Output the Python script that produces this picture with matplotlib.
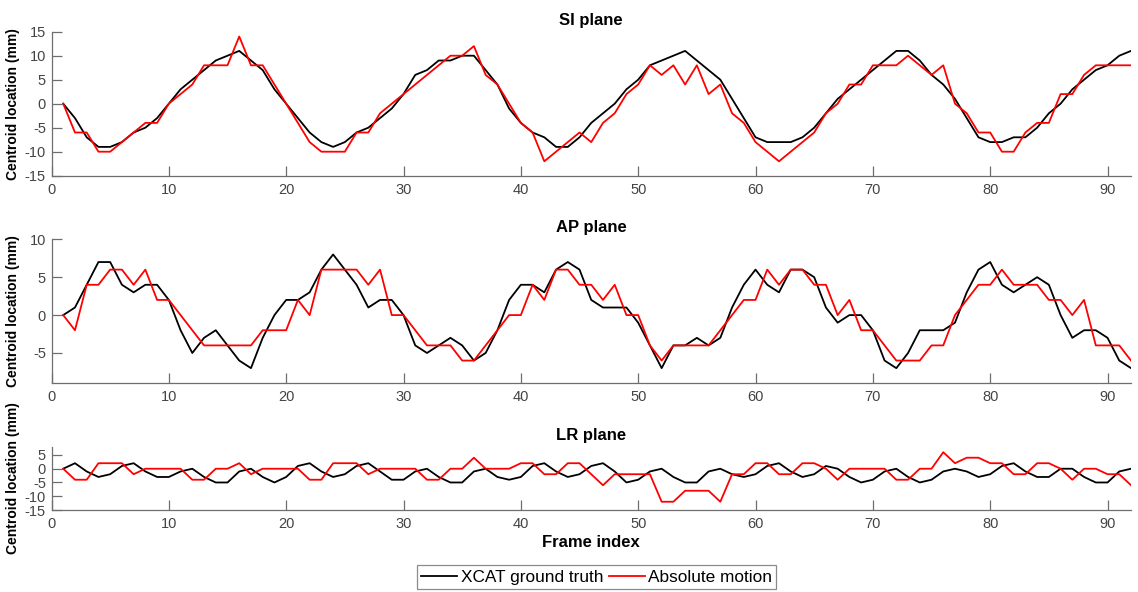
import matplotlib
matplotlib.use("Agg")
import matplotlib.pyplot as plt
import numpy as np

plt.rcParams['font.family'] = ['Liberation Sans', 'DejaVu Sans']
plt.rcParams['axes.unicode_minus'] = False

frames = np.arange(1, 93)

si_truth = [0, -3, -7, -9, -9, -8, -6, -5, -3, 0, 3, 5, 7, 9, 10, 11, 9, 7, 3, 0,
            -3, -6, -8, -9, -8, -6, -5, -3, -1, 2, 6, 7, 9, 9, 10, 10, 7, 4, -1, -4,
            -6, -7, -9, -9, -7, -4, -2, 0, 3, 5, 8, 9, 10, 11, 9, 7, 5, 1, -3, -7,
            -8, -8, -8, -7, -5, -2, 1, 3, 5, 7, 9, 11, 11, 9, 6, 4, 1, -3, -7, -8,
            -8, -7, -7, -5, -2, 0, 3, 5, 7, 8, 10, 11]
si_abs = [0, -6, -6, -10, -10, -8, -6, -4, -4, 0, 2, 4, 8, 8, 8, 14, 8, 8, 4, 0,
          -4, -8, -10, -10, -10, -6, -6, -2, 0, 2, 4, 6, 8, 10, 10, 12, 6, 4, 0, -4,
          -6, -12, -10, -8, -6, -8, -4, -2, 2, 4, 8, 6, 8, 4, 8, 2, 4, -2, -4, -8,
          -10, -12, -10, -8, -6, -2, 0, 4, 4, 8, 8, 8, 10, 8, 6, 8, 0, -2, -6, -6,
          -10, -10, -6, -4, -4, 2, 2, 6, 8, 8, 8, 8]

ap_truth = [0, 1, 4, 7, 7, 4, 3, 4, 4, 2, -2, -5, -3, -2, -4, -6, -7, -3, 0, 2,
            2, 3, 6, 8, 6, 4, 1, 2, 2, 0, -4, -5, -4, -3, -4, -6, -5, -2, 2, 4,
            4, 3, 6, 7, 6, 2, 1, 1, 1, -1, -4, -7, -4, -4, -3, -4, -3, 1, 4, 6,
            4, 3, 6, 6, 5, 1, -1, 0, 0, -2, -6, -7, -5, -2, -2, -2, -1, 3, 6, 7,
            4, 3, 4, 5, 4, 0, -3, -2, -2, -3, -6, -7]
ap_abs = [0, -2, 4, 4, 6, 6, 4, 6, 2, 2, 0, -2, -4, -4, -4, -4, -4, -2, -2, -2,
          2, 0, 6, 6, 6, 6, 4, 6, 0, 0, -2, -4, -4, -4, -6, -6, -4, -2, 0, 0,
          4, 2, 6, 6, 4, 4, 2, 4, 0, 0, -4, -6, -4, -4, -4, -4, -2, 0, 2, 2,
          6, 4, 6, 6, 4, 4, 0, 2, -2, -2, -4, -6, -6, -6, -4, -4, 0, 2, 4, 4,
          6, 4, 4, 4, 2, 2, 0, 2, -4, -4, -4, -6]

lr_truth = [0, 2, -1, -3, -2, 1, 2, -1, -3, -3, -1, 0, -3, -5, -5, -1, 0, -3, -5, -3,
            1, 2, -1, -3, -2, 1, 2, -1, -4, -4, -1, 0, -3, -5, -5, -1, 0, -3, -4, -3,
            1, 2, -1, -3, -2, 1, 2, -1, -5, -4, -1, 0, -3, -5, -5, -1, 0, -2, -3, -2,
            1, 2, -1, -3, -2, 1, 0, -3, -5, -4, -1, 0, -3, -5, -4, -1, 0, -1, -3, -2,
            1, 2, -1, -3, -3, 0, 0, -3, -5, -5, -1, 0]
lr_abs = [0, -4, -4, 2, 2, 2, -2, 0, 0, 0, 0, -4, -4, 0, 0, 2, -2, 0, 0, 0,
          0, -4, -4, 2, 2, 2, -2, 0, 0, 0, 0, -4, -4, 0, 0, 4, 0, 0, 0, 2,
          2, -2, -2, 2, 2, -2, -6, -2, -2, -2, -2, -12, -12, -8, -8, -8, -12, -2, -2, 2,
          2, -2, -2, 2, 2, 0, -4, 0, 0, 0, 0, -4, -4, 0, 0, 6, 2, 4, 4, 2,
          2, -2, -2, 2, 2, 0, -4, 0, 0, -2, -2, -6]

titles = ["SI plane", "AP plane", "LR plane"]
ylims = [(-15, 15), (-9, 10), (-15, 8)]
yticks = [[-15, -10, -5, 0, 5, 10, 15], [-5, 0, 5, 10], [-15, -10, -5, 0, 5]]
xticks = [0, 10, 20, 30, 40, 50, 60, 70, 80, 90]

W, H = 1138, 592
fig = plt.figure(figsize=(W / 100, H / 100), dpi=100)

left, right = 51.5, 1131
boxes = [(31.7, 175.7), (239.3, 383.3), (446.7, 510.0)]
axes = []
for (top, bot) in boxes:
    ax = fig.add_axes([left / W, 1 - bot / H, (right - left) / W, (bot - top) / H])
    axes.append(ax)

data = [(si_truth, si_abs), (ap_truth, ap_abs), (lr_truth, lr_abs)]
spine_col = '#6e6e6e'
tick_col = '#444444'
for i, ax in enumerate(axes):
    t, a = data[i]
    l1, = ax.plot(frames, t, color='black', lw=1.3, label='XCAT ground truth')
    l2, = ax.plot(frames, a, color='#ff0000', lw=1.3, label='Absolute motion')
    ax.set_xlim(0, 92)
    ax.set_ylim(*ylims[i])
    ax.set_xticks(xticks)
    ax.set_yticks(yticks[i])
    for s in ['top', 'right']:
        ax.spines[s].set_visible(False)
    for s in ['left', 'bottom']:
        ax.spines[s].set_color(spine_col)
        ax.spines[s].set_linewidth(0.9)
    ax.tick_params(direction='in', length=7, width=0.9, color=spine_col,
                   labelcolor=tick_col, labelsize=10.5)
    ax.tick_params(axis='x', pad=5)
    ax.tick_params(axis='y', pad=4)
    ax.set_title(titles[i], fontsize=12, fontweight='bold', pad=5)
    ax.set_ylabel('Centroid location (mm)', fontsize=10, fontweight='bold')
    ax.yaxis.set_label_coords(-0.029, 0.5)

axes[2].set_xlabel('Frame index', fontsize=12, fontweight='bold', labelpad=3)

leg = fig.legend(handles=[l1, l2], loc='center', bbox_to_anchor=(596.7 / W, 1 - 577 / H),
                 ncol=2, fontsize=12.4, frameon=True, fancybox=False,
                 handlelength=2.1, handletextpad=0.2, columnspacing=0.3,
                 borderpad=0.25, borderaxespad=0)
leg.get_frame().set_edgecolor('#6e6e6e')
leg.get_frame().set_linewidth(0.9)

fig.savefig('out.png', dpi=100)
